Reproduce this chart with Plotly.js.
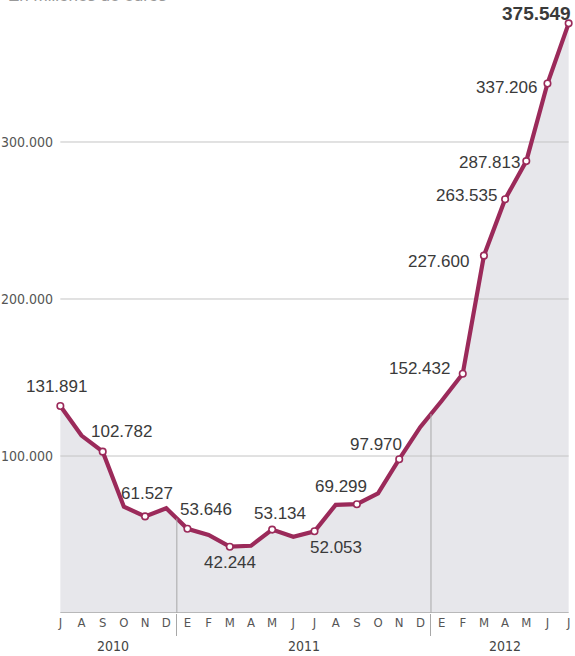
<!DOCTYPE html>
<html>
<head>
<meta charset="utf-8">
<script src="https://cdn.plot.ly/plotly-3.0.1.min.js"></script>
<style>html,body{margin:0;padding:0;background:#fff;}#chart{width:575px;height:656px;}</style>
</head>
<body>
<div id="chart"></div>
<script>
// Months Jul 2010 – Jul 2012 (Spanish initials)
const months = ["J","A","S","O","N","D","E","F","M","A","M","J","J","A","S","O","N","D","E","F","M","A","M","J","J"];
// Values in millions of euros
const values = [131891,113000,102782,67700,61527,66700,53646,49700,42244,42800,53134,48600,52053,68900,69299,76200,97970,118500,135000,152432,227600,263535,287813,337206,375549];
// Points that carry a printed label and a marker
const labelIdx = [0,2,4,6,8,10,12,14,16,19,20,21,22,23,24];
const labelText = ["131.891","102.782","61.527","53.646","42.244","53.134","52.053","69.299","97.970","152.432","227.600","263.535","287.813","337.206","375.549"];
const yTickVals = [100000,200000,300000];
const yTickText = ["100.000","200.000","300.000"];
const years = ["2010","2011","2012"];
const yearCenters = [2.5,11.5,21];
const yearBreaks = [5.5,17.5];

const idx = values.map((v,i)=>i);
const lineColor = "#9b2a5a";
const condensed = "DejaVu Sans Condensed, Liberation Sans Narrow, sans-serif";

// label placement (pixel offsets relative to the point)
const labelPos = {
  0:{xa:"center",dx:-4,dy:19},
  2:{xa:"center",dx:19,dy:20},
  4:{xa:"center",dx:2,dy:23},
  6:{xa:"center",dx:19,dy:19},
  8:{xa:"center",dx:0,dy:-16},
  10:{xa:"center",dx:8,dy:16},
  12:{xa:"center",dx:21,dy:-16},
  14:{xa:"center",dx:-16,dy:18},
  16:{xa:"center",dx:-23,dy:15},
  19:{xa:"right",dx:-11,dy:5},
  20:{xa:"right",dx:-13,dy:-6},
  21:{xa:"right",dx:-6,dy:4},
  22:{xa:"right",dx:-4,dy:-1},
  23:{xa:"right",dx:-8,dy:-4},
  24:{xa:"right",dx:4,dy:10}
};

// gridlines drawn as a trace so they sit above the gray fill
const gx=[], gy=[];
yTickVals.forEach(v=>{gx.push(0,values.length-1,null); gy.push(v,v,null);});
const sx=[], sy=[];
yearBreaks.forEach(b=>{
  const lo=Math.floor(b), hi=Math.ceil(b);
  sx.push(b,b,null); sy.push(0,(values[lo]+values[hi])/2,null);
});

const traces = [
  {x:idx,y:values,type:"scatter",mode:"lines",fill:"tozeroy",fillcolor:"#e7e7eb",line:{width:0,color:"rgba(0,0,0,0)"},hoverinfo:"skip"},
  {x:gx,y:gy,type:"scatter",mode:"lines",line:{color:"#c4c4c4",width:1},hoverinfo:"skip"},
  {x:[0,values.length-1],y:[0,0],type:"scatter",mode:"lines",line:{color:"#a8a8a8",width:1.5},hoverinfo:"skip",cliponaxis:false},
  {x:sx,y:sy,xaxis:"x2",type:"scatter",mode:"lines",line:{color:"#a8a8a8",width:1},hoverinfo:"skip"},
  {x:idx,y:values,type:"scatter",mode:"lines",line:{color:lineColor,width:4.2,shape:"linear"},cliponaxis:false,hoverinfo:"skip"},
  {x:labelIdx,y:labelIdx.map(i=>values[i]),type:"scatter",mode:"markers",marker:{size:6.5,color:"#ffffff",line:{color:lineColor,width:1.6}},cliponaxis:false,hoverinfo:"skip"}
];

const annotations = labelIdx.map((i,k)=>{
  const p = labelPos[i];
  const bold = (i===values.length-1);
  return {x:i,y:values[i],xref:"x",yref:"y",text:bold?("<b>"+labelText[k]+"</b>"):labelText[k],showarrow:false,
    xanchor:p.xa,yanchor:"middle",xshift:p.dx,yshift:p.dy,
    font:{family:"Liberation Sans, Arial, sans-serif",size:bold?19:17,color:"#3a3a3a"}};
});
years.forEach((y,k)=>{
  annotations.push({x:yearCenters[k],y:0,xref:"x",yref:"paper",text:y,showarrow:false,xanchor:"center",yanchor:"bottom",yshift:-43,
    font:{family:condensed,size:14,color:"#444"}});
});
annotations.push({x:0,y:1,xref:"paper",yref:"paper",text:"En millones de euros",showarrow:false,xanchor:"left",yanchor:"bottom",xshift:-48,yshift:-6,
  font:{family:"Liberation Sans, Arial, sans-serif",size:17,color:"#999"}});

const layout = {
  width:575,height:656,
  margin:{l:54,r:0,t:1,b:43},
  paper_bgcolor:"#ffffff",plot_bgcolor:"#ffffff",
  showlegend:false,
  xaxis:{range:[-0.3,24.3],tickmode:"array",tickvals:idx,ticktext:months,showgrid:false,zeroline:false,showline:false,ticks:"",
    tickfont:{family:condensed,size:13,color:"#555"},fixedrange:true},
  xaxis2:{overlaying:"x",anchor:"y",side:"bottom",range:[-0.3,24.3],tickmode:"array",tickvals:yearBreaks,ticks:"outside",ticklen:22,tickwidth:1,tickcolor:"#a8a8a8",
    showticklabels:false,showgrid:false,zeroline:false,showline:false},
  yaxis:{range:[0,389800],tickmode:"array",tickvals:yTickVals,ticktext:yTickText,showgrid:false,zeroline:false,showline:false,ticks:"",
    tickfont:{family:condensed,size:14,color:"#555"},fixedrange:true},
  annotations:annotations
};

Plotly.newPlot("chart",traces,layout,{displayModeBar:false,staticPlot:true});
</script>
</body>
</html>
